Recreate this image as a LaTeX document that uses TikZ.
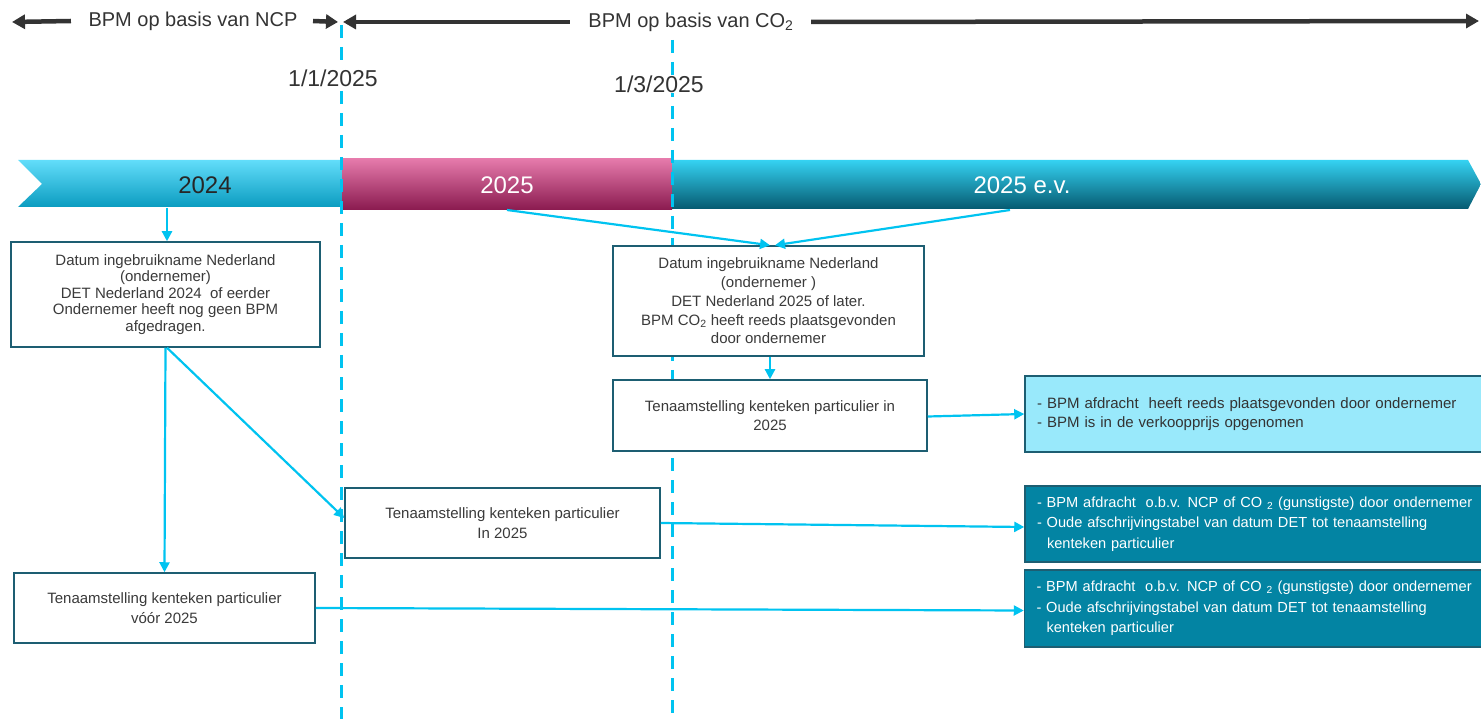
\documentclass[tikz,border=0pt]{standalone}
\usepackage{fontspec}
\setmainfont{Liberation Sans}
\usetikzlibrary{arrows.meta}
\definecolor{linkcyan}{HTML}{00C3F0}
\definecolor{hdrgray}{HTML}{333333}
\definecolor{boxedge}{HTML}{1D5E72}
\definecolor{boxtext}{HTML}{3A3A3A}
\definecolor{lightfill}{HTML}{99E9FB}
\definecolor{tealfill}{HTML}{0384A3}

\begin{document}
\begin{tikzpicture}[x=1pt, y=-1pt,
  link/.style={-{Triangle[length=10pt,width=10pt]}, linkcyan, line width=2.2pt},
  hdr/.style={hdrgray, line width=4.5pt},
  cutline/.style={linkcyan, line width=3pt, dash pattern=on 13pt off 9pt},
  infobox/.style={draw=boxedge, line width=1.5pt, fill=white, inner sep=0pt, align=center, text=boxtext},
  notebox/.style={draw=boxedge, line width=1.5pt, inner xsep=12pt, inner ysep=0pt, text width=434pt, align=left},
  boxfont/.style={font=\fontsize{15}{#1}\selectfont}]
\useasboundingbox (0,0) rectangle (1481,719);
% Draw header
\node[text=hdrgray, font=\fontsize{20}{24}\selectfont] (ncp) at (193,21) {BPM op basis van NCP};
\node[text=hdrgray, font=\fontsize{20}{24}\selectfont] (co2) at (691,22) {BPM op basis van CO\textsubscript{2}};
\coordinate (lend) at (12,22);
\coordinate (rend) at (1479,21);
\draw[hdr, {Triangle[length=13pt,width=14pt]}-] (lend) -- ([xshift=-14pt]ncp.west);
\draw[hdr, -{Triangle[length=12pt,width=14pt]}] ([xshift=12pt]ncp.east) -- (338,22);
\draw[hdr, {Triangle[length=13pt,width=14pt]}-] (343,22) -- ([xshift=-15pt]co2.west);
\draw[hdr, -{Triangle[length=13pt,width=14pt]}] ([xshift=14pt]co2.east) -- (rend);
% Draw timeline bar
\shade[top color={rgb,255:red,98;green,221;blue,250}, middle color={rgb,255:red,18;green,201;blue,241}, bottom color={rgb,255:red,11;green,156;blue,192}]
  (18,160) -- (345,160) -- (345,207) -- (18,207) -- (42,184) -- cycle;
\shade[top color={rgb,255:red,229;green,122;blue,171}, middle color={rgb,255:red,201;green,28;blue,103}, bottom color={rgb,255:red,138;green,26;blue,79}]
  (342,159) rectangle (672,210);
\shade[top color={rgb,255:red,53;green,210;blue,242}, middle color={rgb,255:red,10;green,147;blue,181}, bottom color={rgb,255:red,5;green,90;blue,112}]
  (672,160) -- (1468,160) -- (1481,184) -- (1468,209) -- (672,209) -- cycle;
\node[font=\fontsize{24}{28}\selectfont, text=black!85] (y24) at (205,185) {2024};
\node[font=\fontsize{24}{28}\selectfont, text=white] (y25) at (507,185) {2025};
\node[font=\fontsize{24}{28}\selectfont, text=white] (yev) at (1022,185) {2025 e.v.};
% Draw date lines
\draw[cutline] (341,25) -- (341,719);
\draw[cutline] (672,40) -- (672,719);
\node[fill=white, text=hdrgray, font=\fontsize{23}{26}\selectfont, inner sep=1pt] (d1) at (333,78) {1/1/2025};
\node[fill=white, text=hdrgray, font=\fontsize{23}{26}\selectfont, inner sep=1pt] (d3) at (659,84) {1/3/2025};
% Draw boxes
\node[infobox, boxfont=16.5, minimum width=309pt, minimum height=105pt] (datumA) at (165.5,294.5)
  {Datum ingebruikname Nederland\\(ondernemer)\\DET Nederland 2024\ \ of eerder\\Ondernemer heeft nog geen BPM\\afgedragen.};
\node[infobox, boxfont=18.75, minimum width=311pt, minimum height=110pt] (datumB) at (768.5,301)
  {Datum ingebruikname Nederland\\(ondernemer )\\DET Nederland 2025 of later.\\BPM CO\textsubscript{2} heeft reeds plaatsgevonden\\door ondernemer};
\node[infobox, boxfont=19, minimum width=314pt, minimum height=71pt] (tenC) at (770,415.5)
  {Tenaamstelling kenteken particulier in\\2025};
\node[infobox, boxfont=20, minimum width=315pt, minimum height=70pt] (tenD) at (502.5,523)
  {Tenaamstelling kenteken particulier\\In 2025};
\node[infobox, boxfont=20, minimum width=301pt, minimum height=70pt] (tenE) at (164.5,608)
  {Tenaamstelling kenteken particulier\\v\'o\'or 2025};
\node[notebox, fill=lightfill, text=hdrgray, boxfont=19, minimum height=76pt] (gevF) at (1254,414)
  {- BPM afdracht\ \ heeft reeds plaatsgevonden door ondernemer\\- BPM is in de verkoopprijs opgenomen};
\node[notebox, fill=tealfill, text=white, font=\fontsize{14.6}{20.5}\selectfont, minimum height=76pt] (gevG) at (1254,524)
  {\mbox{- BPM afdracht\ \ o.b.v. NCP of CO \textsubscript{2} (gunstigste) door ondernemer}\\- Oude afschrijvingstabel van datum DET tot tenaamstelling\\\hspace*{10pt}kenteken particulier};
\node[notebox, fill=tealfill, text=white, font=\fontsize{14.6}{20.5}\selectfont, minimum height=77pt] (gevH) at (1253.5,608.5)
  {\mbox{- BPM afdracht\ \ o.b.v. NCP of CO \textsubscript{2} (gunstigste) door ondernemer}\\- Oude afschrijvingstabel van datum DET tot tenaamstelling\\\hspace*{10pt}kenteken particulier};
% Draw connectors
\coordinate (b24) at (167,208);
\coordinate (b25) at (507,210);
\coordinate (bev) at (1010,210);
\draw[link] (b24) -- (b24 |- datumA.north);
\draw[link] (b25) -- ([xshift=1.5pt]datumB.north);
\draw[link] (bev) -- ([xshift=6.5pt]datumB.north);
\draw[link] ([xshift=1.5pt]datumB.south) -- ([xshift=0pt]tenC.north);
\draw[link] ([xshift=1.5pt]datumA.south) -- ([yshift=5pt]tenD.west);
\draw[link] (datumA.south) -- (tenE.north);
\draw[link] ([yshift=-1pt]tenC.east) -- (gevF.west);
\draw[link] (tenD.east) -- ([yshift=-3pt]gevG.west);
\draw[link] (tenE.east) -- ([yshift=-2pt]gevH.west);
\end{tikzpicture}
\end{document}
